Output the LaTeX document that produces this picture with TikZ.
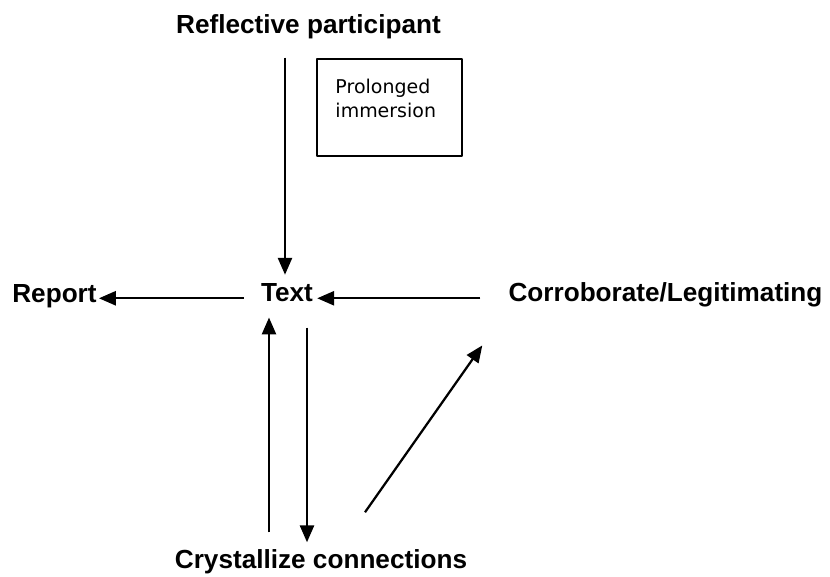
\documentclass[tikz,border=0pt]{standalone}
\usepackage{fontspec}
\setmainfont{Liberation Sans}
\newfontfamily\boxfont{DejaVu Sans}
\usetikzlibrary{arrows.meta}
\usetikzlibrary{calc}

\begin{document}
\begin{tikzpicture}[x=0.025cm, y=-0.025cm, line join = round,
  lbl/.style={font=\fontsize{18.6}{22}\selectfont\bfseries, inner sep=0pt, anchor=base},
  arr/.style={-{Triangle[length=12pt,width=10pt]}, line width=1.6pt}]

\useasboundingbox (0,0) rectangle (830,577);

% labels (placed on their baselines)
\node[lbl] (refl) at (308.5,34) {Reflective participant};
\node[lbl] (text) at (287,302) {Text};
\node[lbl] (report) at (54.5,303) {Report};
\node[lbl] (corr) at (665.5,302) {Corroborate/Legitimating};
\node[lbl] (cryst) at (321,568) {Crystallize connections};

% side box
\node[draw, line width=1.1pt, minimum width=3.625cm, minimum height=2.425cm, inner sep=0pt] (immbox) at (389.5,107.5) {};
\node[anchor=north west, align=left, inner sep=0pt, font=\boxfont\fontsize{13.5}{17}\selectfont] (immtext) at ($(immbox.north west)+(19,21)$) {Prolonged\\immersion};

% arrows into and out of Text
\draw[arr] ($(refl.south -| text)+(-2,18)$) -- ($(text.north)+(-2,-9)$); % participant to text
\draw[arr] ($(text.mid west)+(-17,0)$) -- ($(text.mid west -| report.east)+(2,0)$); % text to report
\draw[arr] ($(corr.mid west)+(-28,0)$) -- ($(text.mid east)+(4,0)$); % corroborate to text
\draw[arr] ($(cryst.north -| text)+(-18,-16.5)$) -- ($(text.south)+(-18,15)$); % up
\draw[arr] ($(text.south)+(20,25)$) -- ($(cryst.north -| text)+(20,-6.5)$); % down
\draw[arr] ($(cryst.north)+(44,-36.5)$) -- ($(corr.south west)+(-26,37.6)$); % diagonal

\end{tikzpicture}
\end{document}
